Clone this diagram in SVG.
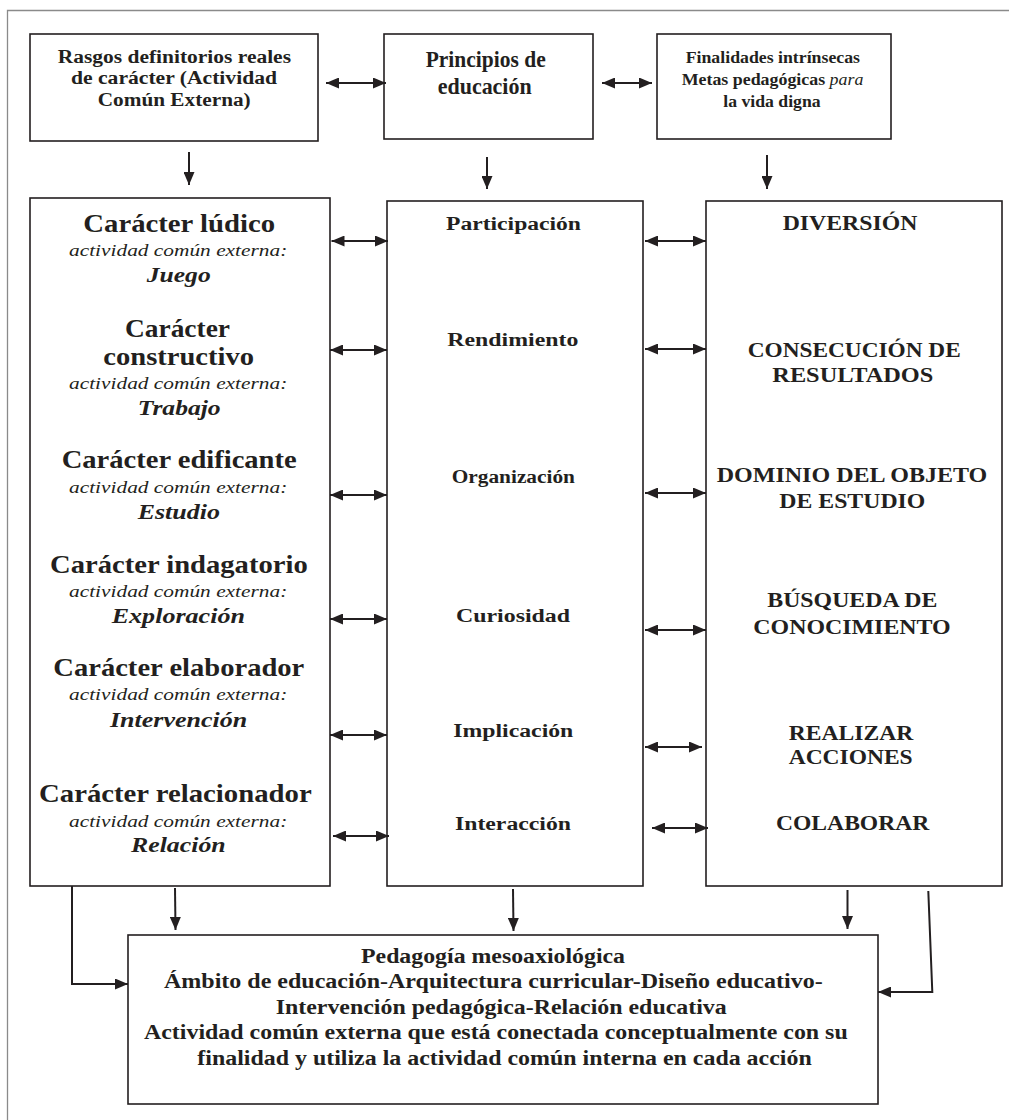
<svg xmlns="http://www.w3.org/2000/svg" width="1009" height="1120" viewBox="0 0 1009 1120">
<style>
.box{fill:#fff;stroke:#231f20;stroke-width:1.6}
.frame{fill:none;stroke:#8a8a8a;stroke-width:1.3}
.t{font-family:"Liberation Serif","Times New Roman",serif;fill:#231f20;font-weight:bold}
.it{font-weight:normal;font-style:italic}
.bi{font-style:italic}
.c{fill:none;stroke:#231f20;stroke-width:2}
.d{marker-end:url(#ah)}
.dd{marker-start:url(#ah);marker-end:url(#ah)}
.f18{font-size:18px}.f175{font-size:17.5px}.f24{font-size:24px}.f25{font-size:25px}.f17{font-size:17px}.f20{font-size:20px}.f21{font-size:21px}.f185{font-size:18.5px}
</style>
<defs>
<marker id="ah" viewBox="0 0 13 11" refX="13" refY="5.5" markerWidth="13" markerHeight="11" markerUnits="userSpaceOnUse" orient="auto-start-reverse">
<path d="M0,0 L13,5.5 L0,11 z" fill="#231f20"/>
</marker>
</defs>
<rect width="1009" height="1120" fill="#fff"/>
<path class="frame" d="M7.5,1120 V10.5 H1009"/>

<g id="n-rasgos">
<rect class="box" x="30" y="34" width="288" height="107"/>
<text class="t f18" x="57.7" y="62.5" textLength="233.3" lengthAdjust="spacingAndGlyphs">Rasgos definitorios reales</text>
<text class="t f18" x="71" y="84" textLength="206" lengthAdjust="spacingAndGlyphs">de carácter (Actividad</text>
<text class="t f18" x="97.7" y="106" textLength="153" lengthAdjust="spacingAndGlyphs">Común Externa)</text>
</g>
<g id="n-principios">
<rect class="box" x="384" y="34" width="209" height="105"/>
<text class="t f24" x="425.7" y="66.5" textLength="120" lengthAdjust="spacingAndGlyphs">Principios de</text>
<text class="t f24" x="437.7" y="94" textLength="94" lengthAdjust="spacingAndGlyphs">educación</text>
</g>
<g id="n-finalidades">
<rect class="box" x="657" y="34" width="234" height="105"/>
<text class="t f175" x="685.7" y="62.5" textLength="174.3" lengthAdjust="spacingAndGlyphs">Finalidades intrínsecas</text>
<text class="t f175" x="681.7" y="85" textLength="181.7" lengthAdjust="spacingAndGlyphs">Metas pedagógicas <tspan class="it">para</tspan></text>
<text class="t f175" x="723.3" y="106.5" textLength="97.3" lengthAdjust="spacingAndGlyphs">la vida digna</text>
</g>

<g id="n-caracter">
<rect class="box" x="30" y="198" width="300" height="688"/>
<text class="t f25" x="83.3" y="232" textLength="191.7" lengthAdjust="spacingAndGlyphs">Carácter lúdico</text>
<text class="t it f17" x="69" y="256" textLength="218.3" lengthAdjust="spacingAndGlyphs">actividad común externa:</text>
<text class="t bi f21" x="146.7" y="281.7" textLength="64" lengthAdjust="spacingAndGlyphs">Juego</text>
<text class="t f25" x="125" y="336.7" textLength="105" lengthAdjust="spacingAndGlyphs">Carácter</text>
<text class="t f25" x="103.3" y="365" textLength="150.7" lengthAdjust="spacingAndGlyphs">constructivo</text>
<text class="t it f17" x="69" y="389.3" textLength="218.3" lengthAdjust="spacingAndGlyphs">actividad común externa:</text>
<text class="t bi f21" x="137.7" y="415" textLength="83" lengthAdjust="spacingAndGlyphs">Trabajo</text>
<text class="t f25" x="61.7" y="468" textLength="235" lengthAdjust="spacingAndGlyphs">Carácter edificante</text>
<text class="t it f17" x="69" y="493.3" textLength="218.3" lengthAdjust="spacingAndGlyphs">actividad común externa:</text>
<text class="t bi f21" x="137.7" y="519" textLength="82.3" lengthAdjust="spacingAndGlyphs">Estudio</text>
<text class="t f25" x="50" y="572.7" textLength="257.7" lengthAdjust="spacingAndGlyphs">Carácter indagatorio</text>
<text class="t it f17" x="69" y="596.7" textLength="218.3" lengthAdjust="spacingAndGlyphs">actividad común externa:</text>
<text class="t bi f21" x="111.7" y="622.7" textLength="133.3" lengthAdjust="spacingAndGlyphs">Exploración</text>
<text class="t f25" x="53.3" y="676" textLength="251" lengthAdjust="spacingAndGlyphs">Carácter elaborador</text>
<text class="t it f17" x="69" y="700" textLength="218.3" lengthAdjust="spacingAndGlyphs">actividad común externa:</text>
<text class="t bi f21" x="110" y="726.7" textLength="137.3" lengthAdjust="spacingAndGlyphs">Intervención</text>
<text class="t f25" x="39" y="801.7" textLength="272.7" lengthAdjust="spacingAndGlyphs">Carácter relacionador</text>
<text class="t it f17" x="69" y="826.7" textLength="218.3" lengthAdjust="spacingAndGlyphs">actividad común externa:</text>
<text class="t bi f21" x="131" y="852.3" textLength="94.7" lengthAdjust="spacingAndGlyphs">Relación</text>
</g>

<g id="n-principios-lista">
<rect class="box" x="387" y="201" width="256" height="685"/>
<text class="t f185" x="446" y="230" textLength="135" lengthAdjust="spacingAndGlyphs">Participación</text>
<text class="t f185" x="447.3" y="345.7" textLength="131" lengthAdjust="spacingAndGlyphs">Rendimiento</text>
<text class="t f185" x="451.7" y="483" textLength="123.3" lengthAdjust="spacingAndGlyphs">Organización</text>
<text class="t f185" x="456" y="621.7" textLength="114" lengthAdjust="spacingAndGlyphs">Curiosidad</text>
<text class="t f185" x="453.3" y="736.7" textLength="120" lengthAdjust="spacingAndGlyphs">Implicación</text>
<text class="t f185" x="455" y="830" textLength="116" lengthAdjust="spacingAndGlyphs">Interacción</text>
</g>

<g id="n-metas">
<rect class="box" x="706" y="201" width="296" height="685"/>
<text class="t f20" x="782.7" y="230" textLength="134.6" lengthAdjust="spacingAndGlyphs">DIVERSIÓN</text>
<text class="t f20" x="747.7" y="356.7" textLength="213" lengthAdjust="spacingAndGlyphs">CONSECUCIÓN DE</text>
<text class="t f20" x="772.3" y="381.7" textLength="161" lengthAdjust="spacingAndGlyphs">RESULTADOS</text>
<text class="t f20" x="716.7" y="481.7" textLength="270.6" lengthAdjust="spacingAndGlyphs">DOMINIO DEL OBJETO</text>
<text class="t f20" x="779.3" y="507.7" textLength="146" lengthAdjust="spacingAndGlyphs">DE ESTUDIO</text>
<text class="t f20" x="767.3" y="607.3" textLength="170" lengthAdjust="spacingAndGlyphs">BÚSQUEDA DE</text>
<text class="t f20" x="753.3" y="634" textLength="197.4" lengthAdjust="spacingAndGlyphs">CONOCIMIENTO</text>
<text class="t f20" x="788.7" y="740" textLength="124.6" lengthAdjust="spacingAndGlyphs">REALIZAR</text>
<text class="t f20" x="788.7" y="764.3" textLength="124" lengthAdjust="spacingAndGlyphs">ACCIONES</text>
<text class="t f20" x="776" y="830" textLength="153.3" lengthAdjust="spacingAndGlyphs">COLABORAR</text>
</g>

<g id="n-pedagogia">
<rect class="box" x="128" y="935" width="750" height="169"/>
<text class="t f20" x="361" y="963.3" textLength="264" lengthAdjust="spacingAndGlyphs">Pedagogía mesoaxiológica</text>
<text class="t f20" x="164" y="988.3" textLength="658.7" lengthAdjust="spacingAndGlyphs">Ámbito de educación-Arquitectura curricular-Diseño educativo-</text>
<text class="t f20" x="275.7" y="1014.3" textLength="451" lengthAdjust="spacingAndGlyphs">Intervención pedagógica-Relación educativa</text>
<text class="t f20" x="144" y="1039.3" textLength="703.7" lengthAdjust="spacingAndGlyphs">Actividad común externa que está conectada conceptualmente con su</text>
<text class="t f20" x="197.3" y="1065" textLength="614.4" lengthAdjust="spacingAndGlyphs">finalidad y utiliza la actividad común interna en cada acción</text>
</g>

<g id="connectors">
<line class="c dd" x1="326" y1="83" x2="386" y2="83"/>
<line class="c dd" x1="602" y1="83" x2="652" y2="83"/>
<line class="c d" x1="189" y1="152" x2="189" y2="185"/>
<line class="c d" x1="487" y1="157" x2="487" y2="189"/>
<line class="c d" x1="767" y1="155" x2="767" y2="189"/>

<line class="c dd" x1="331.5" y1="241" x2="388" y2="241"/>
<line class="c dd" x1="330" y1="350" x2="387" y2="350"/>
<line class="c dd" x1="330" y1="495" x2="387" y2="495"/>
<line class="c dd" x1="330" y1="619" x2="387" y2="619"/>
<line class="c dd" x1="330" y1="735" x2="387" y2="735"/>
<line class="c dd" x1="333" y1="836" x2="389" y2="836"/>

<line class="c dd" x1="645" y1="241" x2="706" y2="241"/>
<line class="c dd" x1="645" y1="349" x2="706" y2="349"/>
<line class="c dd" x1="645" y1="493" x2="706" y2="493"/>
<line class="c dd" x1="645" y1="630" x2="706" y2="630"/>
<line class="c dd" x1="645" y1="747" x2="702" y2="747"/>
<line class="c dd" x1="652" y1="828" x2="708" y2="828"/>

<line class="c d" x1="175" y1="888" x2="175.5" y2="930"/>
<line class="c d" x1="513" y1="889" x2="513.5" y2="931"/>
<line class="c d" x1="847.5" y1="890" x2="847.5" y2="929"/>
<polyline class="c d" points="72,886 72,984 128,984"/>
<polyline class="c d" points="928.3,891 932.3,992 878,992"/>
</g>
</svg>
